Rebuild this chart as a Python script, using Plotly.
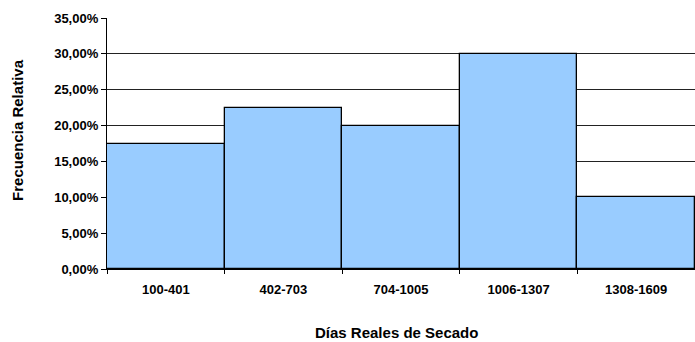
import plotly.graph_objects as go

categories = ["100-401", "402-703", "704-1005", "1006-1307", "1308-1609"]
values = [0.175, 0.225, 0.20, 0.30, 0.10]
y_ticks = [0, 0.05, 0.10, 0.15, 0.20, 0.25, 0.30, 0.35]
x_title = "Días Reales de Secado"
y_title = "Frecuencia Relativa"

bold = dict(family="Liberation Sans, Arial, sans-serif", size=13, color="black", weight="bold")
title_font = dict(family="Liberation Sans, Arial, sans-serif", size=15, color="black", weight="bold")

fig = go.Figure(go.Bar(
    x=categories, y=values,
    marker=dict(color="#99CCFF", line=dict(color="black", width=1.3)),
    width=1,
))

fig.update_layout(
    width=695, height=342,
    margin=dict(l=107, r=0, t=18, b=73),
    paper_bgcolor="white", plot_bgcolor="white",
    separators=",.",
    bargap=0,
    showlegend=False,
    font=bold,
    annotations=[
        dict(text=x_title, xref="paper", yref="paper", x=0.4915, y=-0.251,
             xanchor="center", yanchor="middle", showarrow=False, font=title_font),
        dict(text=y_title, xref="paper", yref="paper", x=-0.1514, y=0.554,
             xanchor="center", yanchor="middle", textangle=-90, showarrow=False, font=title_font),
    ],
)
fig.update_xaxes(
    type="category", tickson="boundaries", ticks="outside", ticklen=4, tickcolor="black",
    showline=True, linecolor="black", linewidth=1.3, showgrid=False,
    tickfont=bold, ticklabelstandoff=8,
    range=[-0.5, 4.5],
)
fig.update_yaxes(
    range=[0, 0.35], tickvals=y_ticks, tickformat=".2%",
    ticks="outside", ticklen=5, tickcolor="black",
    showline=True, linecolor="black", linewidth=1.3,
    showgrid=True, gridcolor="#222222", gridwidth=1,
    zeroline=False,
    tickfont=bold,
)

fig.write_html("out.html", config={"displayModeBar": False},
               post_script="document.body.style.margin='0';document.body.style.overflow='hidden';")
